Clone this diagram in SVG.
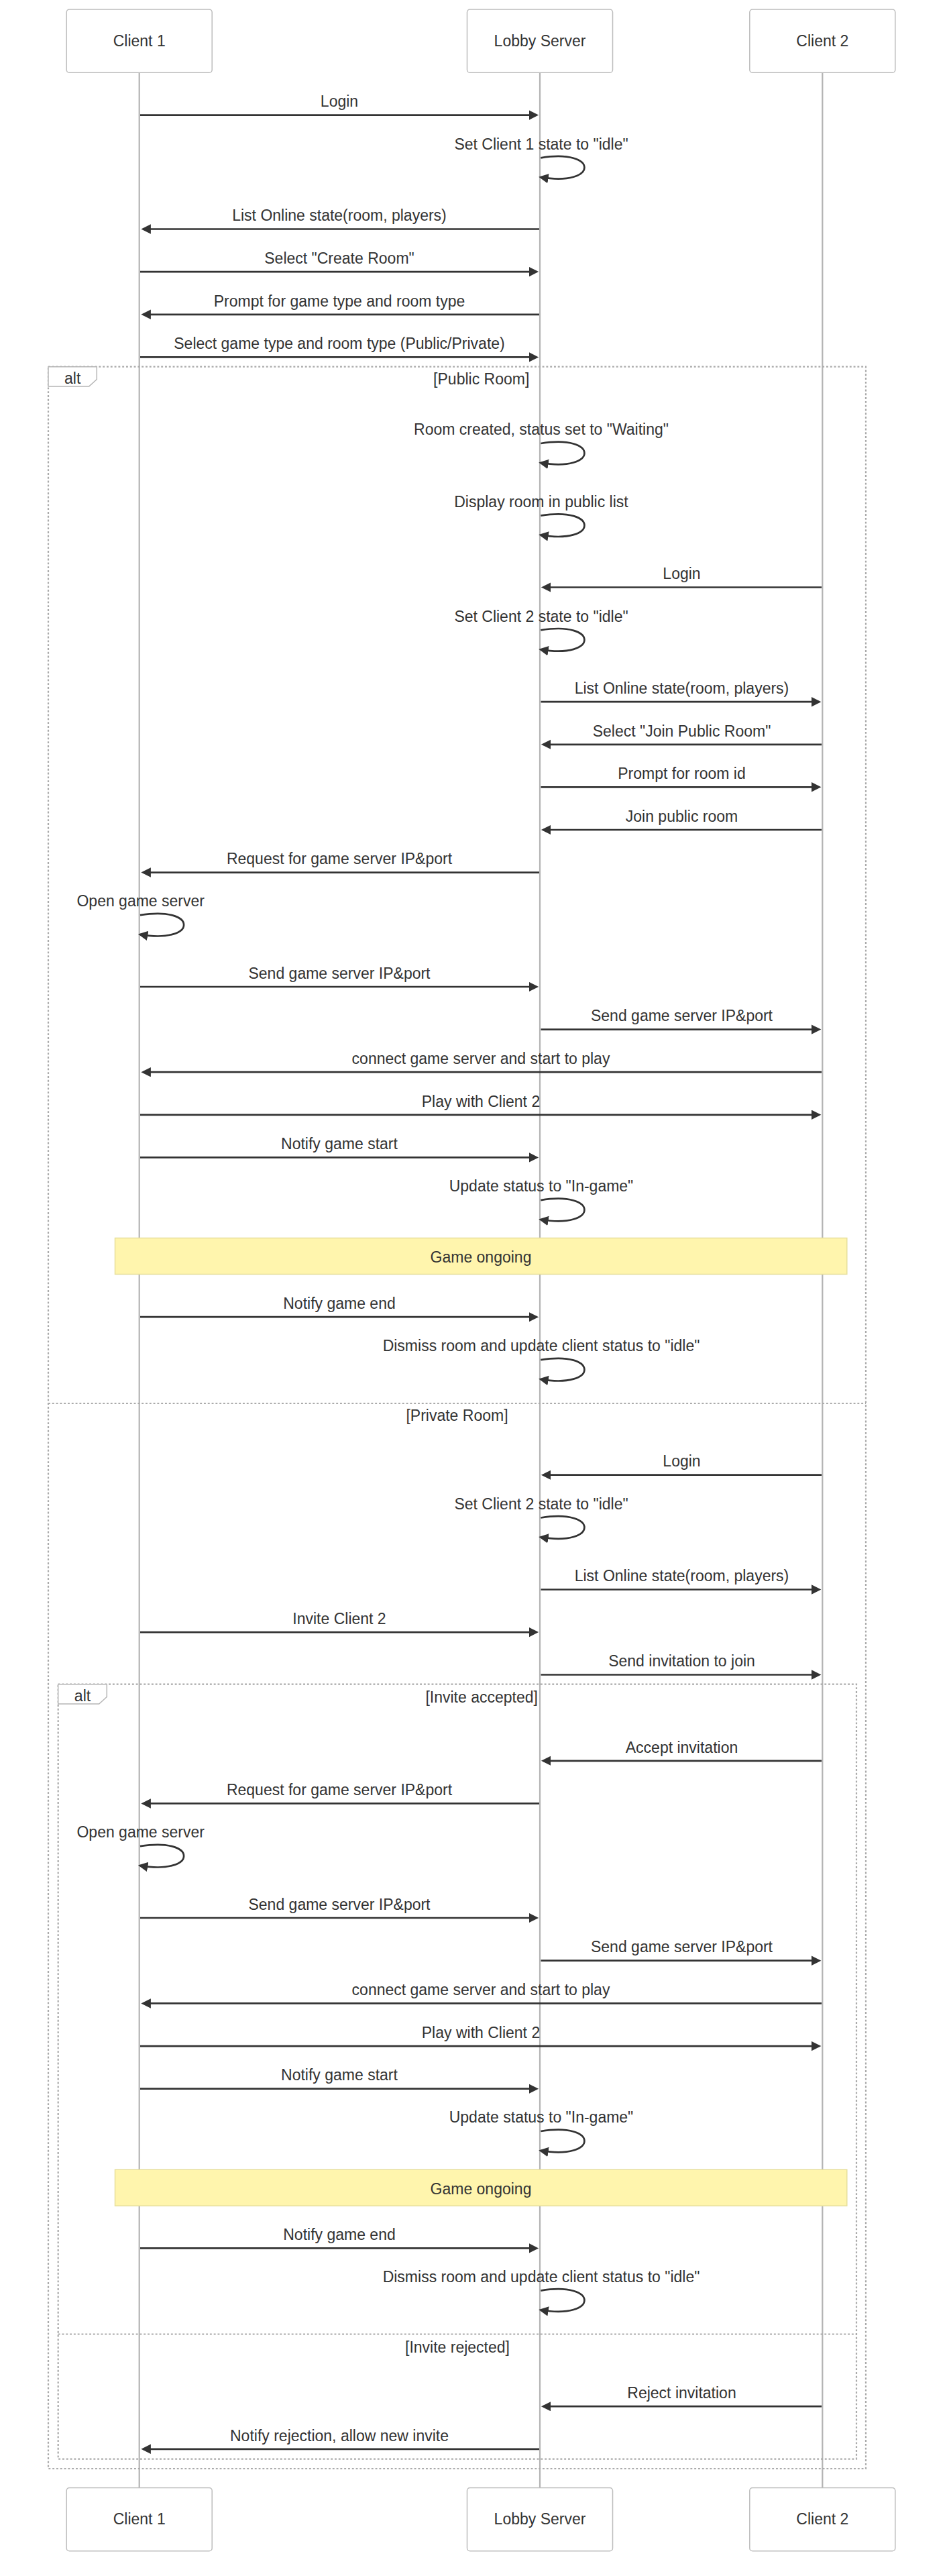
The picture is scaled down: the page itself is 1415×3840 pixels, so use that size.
<svg xmlns="http://www.w3.org/2000/svg" width="1415" height="3840" viewBox="0 0 1415 3840">
<style>
text{font-family:"Liberation Sans",Arial,sans-serif;font-size:23px;fill:#333;text-anchor:middle;dominant-baseline:central}
.actor rect{fill:#fff;stroke:#bdbdbd;stroke-width:1.5}
.life{stroke:#b3b3b3;stroke-width:2.2}
.msg{stroke:#333;stroke-width:2.7;fill:none;marker-end:url(#ah)}
.frame{fill:none;stroke:#aaa;stroke-width:2.2;stroke-dasharray:2.9 2.9}
.lbl{fill:#fff;stroke:#b5b5b5;stroke-width:1.5}
.note rect{fill:#fff5ad;stroke:#e6df9c;stroke-width:1.5}
</style>
<defs>
<marker id="ah" markerUnits="userSpaceOnUse" markerWidth="17.4" markerHeight="17.4" refX="11.4" refY="7.25" orient="auto">
<path d="M0,0 L14.5,7.25 L0,14.5 z" fill="#333"/>
</marker>
</defs>
<rect width="1415" height="3840" fill="#fff"/>
<g id="lifelines">
<line class="life" x1="207.7" y1="108.3" x2="207.7" y2="3708.5"/>
<line class="life" x1="805" y1="108.3" x2="805" y2="3708.5"/>
<line class="life" x1="1226.3" y1="108.3" x2="1226.3" y2="3708.5"/>
</g>
<g id="actor-client1-top" class="actor"><rect x="99.2" y="14" width="217" height="94.3" rx="4.3"/><text x="207.7" y="61">Client 1</text></g>
<g id="actor-lobby-top" class="actor"><rect x="696.5" y="14" width="217" height="94.3" rx="4.3"/><text x="805" y="61">Lobby Server</text></g>
<g id="actor-client2-top" class="actor"><rect x="1117.8" y="14" width="217" height="94.3" rx="4.3"/><text x="1226.3" y="61">Client 2</text></g>
<g id="actor-client1-bottom" class="actor"><rect x="99.2" y="3708.5" width="217" height="94.3" rx="4.3"/><text x="207.7" y="3755.4">Client 1</text></g>
<g id="actor-lobby-bottom" class="actor"><rect x="696.5" y="3708.5" width="217" height="94.3" rx="4.3"/><text x="805" y="3755.4">Lobby Server</text></g>
<g id="actor-client2-bottom" class="actor"><rect x="1117.8" y="3708.5" width="217" height="94.3" rx="4.3"/><text x="1226.3" y="3755.4">Client 2</text></g>
<g id="alt-outer">
<rect class="frame" x="72" y="546.7" width="1219" height="3133.3"/>
<polygon class="lbl" points="72,546.7 144.3,546.7 144.3,565.5 132.7,576 72,576"/>
<text x="108.2" y="564.3">alt</text>
<text x="717.7" y="565">[Public Room]</text>
<line class="frame" x1="72" y1="2092" x2="1291" y2="2092"/>
<text x="681.5" y="2110.3">[Private Room]</text>
</g>
<g id="alt-inner">
<rect class="frame" x="86.7" y="2510.7" width="1190.3" height="1155"/>
<polygon class="lbl" points="86.7,2510.7 159.3,2510.7 159.3,2529.5 147.7,2540 86.7,2540"/>
<text x="123" y="2528.3">alt</text>
<text x="718.2" y="2529.7">[Invite accepted]</text>
<line class="frame" x1="86.7" y1="3479.5" x2="1277" y2="3479.5"/>
<text x="682" y="3498.5">[Invite rejected]</text>
</g>
<g id="note-game-ongoing-1" class="note"><rect x="171.5" y="1845.5" width="1091.3" height="54"/><text x="717" y="1874.3">Game ongoing</text></g>
<g id="note-game-ongoing-2" class="note"><rect x="171.5" y="3234.2" width="1091.3" height="54"/><text x="717" y="3263.2">Game ongoing</text></g>
<g id="connectors">
<line class="msg" x1="209" y1="171.6" x2="800" y2="171.6"/><text x="506" y="151.3">Login</text>
<path class="msg" d="M806.3,235.3 C893.1,220.8 893.1,278.7 806.3,264.2"/><text x="807" y="214.5">Set Client 1 state to "idle"</text>
<line class="msg" x1="804" y1="341.5" x2="213.5" y2="341.5"/><text x="506" y="321.2">List Online state(room, players)</text>
<line class="msg" x1="209" y1="405.1" x2="800" y2="405.1"/><text x="506" y="384.8">Select "Create Room"</text>
<line class="msg" x1="804" y1="468.8" x2="213.5" y2="468.8"/><text x="506" y="448.5">Prompt for game type and room type</text>
<line class="msg" x1="209" y1="532.4" x2="800" y2="532.4"/><text x="506" y="512.1">Select game type and room type (Public/Private)</text>
<path class="msg" d="M806.3,661 C893.1,646.5 893.1,704.4 806.3,689.9"/><text x="807" y="640.2">Room created, status set to "Waiting"</text>
<path class="msg" d="M806.3,768.7 C893.1,754.2 893.1,812.1 806.3,797.6"/><text x="807" y="747.9">Display room in public list</text>
<line class="msg" x1="1225" y1="875.5" x2="810" y2="875.5"/><text x="1016.5" y="855.2">Login</text>
<path class="msg" d="M806.3,939.4 C893.1,924.9 893.1,982.8 806.3,968.3"/><text x="807" y="918.6">Set Client 2 state to "idle"</text>
<line class="msg" x1="806.5" y1="1046.2" x2="1221.3" y2="1046.2"/><text x="1016.5" y="1025.9">List Online state(room, players)</text>
<line class="msg" x1="1225" y1="1109.8" x2="810" y2="1109.8"/><text x="1016.5" y="1089.5">Select "Join Public Room"</text>
<line class="msg" x1="806.5" y1="1173.3" x2="1221.3" y2="1173.3"/><text x="1016.5" y="1153">Prompt for room id</text>
<line class="msg" x1="1225" y1="1237" x2="810" y2="1237"/><text x="1016.5" y="1216.7">Join public room</text>
<line class="msg" x1="804" y1="1300.6" x2="213.5" y2="1300.6"/><text x="506" y="1280.3">Request for game server IP&amp;port</text>
<path class="msg" d="M209,1364.2 C295.8,1349.7 295.8,1407.6 209,1393.1"/><text x="209.7" y="1343.4">Open game server</text>
<line class="msg" x1="209" y1="1471" x2="800" y2="1471"/><text x="506" y="1450.7">Send game server IP&amp;port</text>
<line class="msg" x1="806.5" y1="1534.6" x2="1221.3" y2="1534.6"/><text x="1016.5" y="1514.3">Send game server IP&amp;port</text>
<line class="msg" x1="1225" y1="1598.2" x2="213.5" y2="1598.2"/><text x="717" y="1577.9">connect game server and start to play</text>
<line class="msg" x1="209" y1="1661.8" x2="1221.3" y2="1661.8"/><text x="717" y="1641.5">Play with Client 2</text>
<line class="msg" x1="209" y1="1725.4" x2="800" y2="1725.4"/><text x="506" y="1705.1">Notify game start</text>
<path class="msg" d="M806.3,1789.1 C893.1,1774.6 893.1,1832.5 806.3,1818"/><text x="807" y="1768.3">Update status to "In-game"</text>
<line class="msg" x1="209" y1="1963.2" x2="800" y2="1963.2"/><text x="506" y="1942.9">Notify game end</text>
<path class="msg" d="M806.3,2027.2 C893.1,2012.7 893.1,2070.6 806.3,2056.1"/><text x="807" y="2006.4">Dismiss room and update client status to "idle"</text>
<line class="msg" x1="1225" y1="2198.7" x2="810" y2="2198.7"/><text x="1016.5" y="2178.4">Login</text>
<path class="msg" d="M806.3,2262.5 C893.1,2248 893.1,2305.9 806.3,2291.4"/><text x="807" y="2241.7">Set Client 2 state to "idle"</text>
<line class="msg" x1="806.5" y1="2369.5" x2="1221.3" y2="2369.5"/><text x="1016.5" y="2349.2">List Online state(room, players)</text>
<line class="msg" x1="209" y1="2433.1" x2="800" y2="2433.1"/><text x="506" y="2412.8">Invite Client 2</text>
<line class="msg" x1="806.5" y1="2496.5" x2="1221.3" y2="2496.5"/><text x="1016.5" y="2476.2">Send invitation to join</text>
<line class="msg" x1="1225" y1="2624.8" x2="810" y2="2624.8"/><text x="1016.5" y="2604.5">Accept invitation</text>
<line class="msg" x1="804" y1="2688.4" x2="213.5" y2="2688.4"/><text x="506" y="2668.1">Request for game server IP&amp;port</text>
<path class="msg" d="M209,2752.2 C295.8,2737.7 295.8,2795.6 209,2781.1"/><text x="209.7" y="2731.4">Open game server</text>
<line class="msg" x1="209" y1="2859" x2="800" y2="2859"/><text x="506" y="2838.7">Send game server IP&amp;port</text>
<line class="msg" x1="806.5" y1="2922.7" x2="1221.3" y2="2922.7"/><text x="1016.5" y="2902.4">Send game server IP&amp;port</text>
<line class="msg" x1="1225" y1="2986.4" x2="213.5" y2="2986.4"/><text x="717" y="2966.1">connect game server and start to play</text>
<line class="msg" x1="209" y1="3050.1" x2="1221.3" y2="3050.1"/><text x="717" y="3029.8">Play with Client 2</text>
<line class="msg" x1="209" y1="3113.7" x2="800" y2="3113.7"/><text x="506" y="3093.4">Notify game start</text>
<path class="msg" d="M806.3,3177 C893.1,3162.5 893.1,3220.4 806.3,3205.9"/><text x="807" y="3156.2">Update status to "In-game"</text>
<line class="msg" x1="209" y1="3351.4" x2="800" y2="3351.4"/><text x="506" y="3331.1">Notify game end</text>
<path class="msg" d="M806.3,3414.6 C893.1,3400.1 893.1,3458 806.3,3443.5"/><text x="807" y="3393.8">Dismiss room and update client status to "idle"</text>
<line class="msg" x1="1225" y1="3587.2" x2="810" y2="3587.2"/><text x="1016.5" y="3566.9">Reject invitation</text>
<line class="msg" x1="804" y1="3650.8" x2="213.5" y2="3650.8"/><text x="506" y="3630.5">Notify rejection, allow new invite</text>
</g>
</svg>
